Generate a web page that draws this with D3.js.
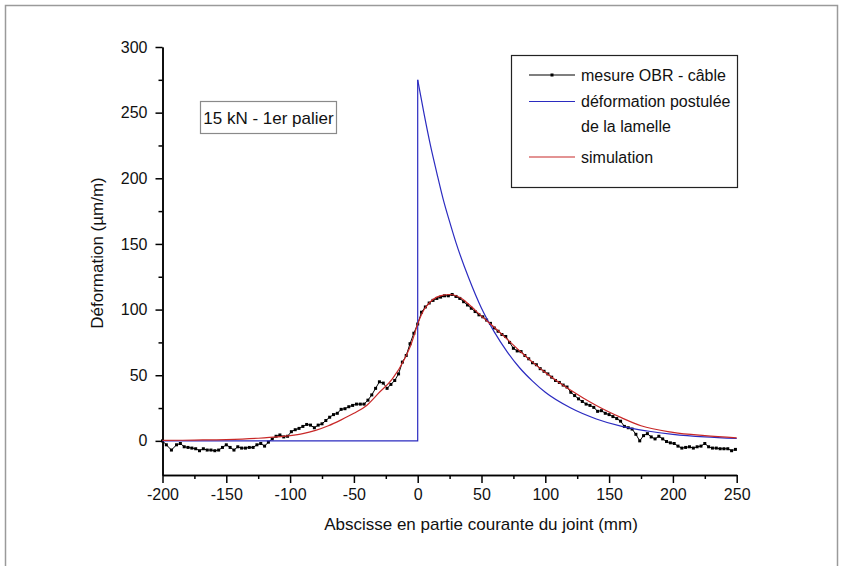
<!DOCTYPE html>
<html><head><meta charset="utf-8">
<script src="https://cdn.jsdelivr.net/npm/d3@7"></script>
<style>
html,body{margin:0;padding:0;background:#fff;}
svg{display:block;font-family:"Liberation Sans",Arial,sans-serif;}
</style></head>
<body>
<svg id="chart" width="841" height="566"></svg>
<script>
// ---- data ----
const xTicks = [-200,-150,-100,-50,0,50,100,150,200,250];
const xMinorTicks = [-175,-125,-75,-25,25,75,125,175,225];
const yTicks = [0,50,100,150,200,250,300];
const yMinorTicks = [25,75,125,175,225,275];
const xDomain = [-200,250];
const yDomain = [-26,300];

// measured OBR (cable)
const obrX = [-200,-197,-193,-189,-186,-183,-180,-177,-174,-171,-168,-165,-162,-159,-156,-153,-150,-147,-144,-141,-138,-135,-132,-129,-126,-123,-120,-117,-114,-111,-108,-105,-102,-99,-96,-93,-90,-87,-84,-81,-78,-75,-72,-69,-66,-63,-60,-57,-54,-51,-48,-45,-42,-39,-36,-33,-30,-27,-24,-21,-18,-15,-12,-9,-6,-3,0,3,6,9,12,15,18,21,24,27,30,33,36,39,42,45,48,51,54,57,60,63,66,69,72,75,78,81,84,87,90,93,96,99,102,105,108,111,114,117,120,123,126,129,132,135,138,141,144,147,150,153,156,159,162,165,168,171,174,177,180,183,186,189,192,195,198,201,204,207,210,213,216,219,222,225,228,231,234,237,240,243,246,249];
const obrY = [0,-3,-7,-3,-2,-4.5,-5,-5.5,-6,-7.5,-6,-7,-7,-7.5,-7,-5,-3,-5,-7,-4.5,-5.5,-5.5,-5,-5,-3,-2,-4,-1,1.5,3.5,4.5,3,3.5,7,8.5,9.5,11,12.5,12,10,12,13,15.5,18,20,21,24,24.5,26,27,28,28,28,31,35,40,45,44,40,43,46,51,60,65,74,82,89,98,102,105,107,108.5,109.5,110.5,110.5,111.5,110,108.5,106,103.5,101,98.5,96,94.5,92,89.5,86,83.5,81,79.5,75,70.5,68.5,68,65,62.5,59.5,58,55,53,51,48.5,46,44.5,42.5,41,37,34.5,32,30,28,27,25.5,22.5,23,21,20,18.5,17,15,11,10,9,5,0,4,5.5,3,1.5,3.5,1.5,-0.5,-1.5,-2,-4,-5.5,-5,-4.5,-5.5,-4.5,-4,-2,-4.5,-5.5,-5.5,-6,-6,-6,-7.5,-6.5];

// postulated strain of the lamella
const blueFlatX = [-200,0,0];
const blueFlatY = [0,0,275];
const blueX = [0,5,10,15,20,25,30,40,50,60,70,80,90,100,120,140,160,180,200,225,250];
const blueY = [275,249,225,204,184,167,151,124,101,83,68,55.5,45.5,37,25,16.7,11,7.5,5,3,1.8];

// simulation
const simX = [-200,-175,-150,-125,-110,-100,-90,-80,-70,-60,-50,-40,-30,-20,-10,-5,0,5,10,15,20,25,30,35,40,50,60,70,80,90,100,110,120,130,140,150,160,175,200,225,250];
const simY = [0.3,0.6,1,2,3,4,5.5,8,11.5,16,21,27,37,47,63,74,89,100,106,109.5,111,111.5,110.5,108,104,95,86.5,77.5,68.5,60,52,45,38.5,32.5,27,22,17.5,11.5,6.5,4,2.3];

const legendLabels = [["mesure OBR - câble"],["déformation postulée","de la lamelle"],["simulation"]];
const annotation = "15 kN - 1er palier";
const xTitle = "Abscisse en partie courante du joint (mm)";
const yTitle = "Déformation (µm/m)";

// ---- drawing ----
const svg = d3.select("#chart");
svg.append("rect").attr("x",5.5).attr("y",5.5).attr("width",832).attr("height",600)
  .attr("fill","none").attr("stroke","#9a9a9a").attr("stroke-width",1.5);

const x = d3.scaleLinear().domain(xDomain).range([162.5,736.7]);
const y = d3.scaleLinear().domain(yDomain).range([475,47]);

const colBlack="#000", colBlue="#2b2bc0", colRed="#c82828";

// axes
const gy = svg.append("g").attr("transform",`translate(${x(xDomain[0])},0)`);
gy.call(d3.axisLeft(y).tickValues(yTicks).tickSize(7).tickSizeOuter(0).tickPadding(8).tickFormat(d3.format("d")));
const gyMin = svg.append("g").attr("transform",`translate(${x(xDomain[0])},0)`);
gyMin.call(d3.axisLeft(y).tickValues(yMinorTicks).tickSize(4).tickSizeOuter(0).tickFormat(""));
const gx = svg.append("g").attr("transform",`translate(0,${y(yDomain[0])})`);
gx.call(d3.axisBottom(x).tickValues(xTicks).tickSize(8).tickSizeOuter(0).tickPadding(6).tickFormat(d3.format("d")));
const gxMin = svg.append("g").attr("transform",`translate(0,${y(yDomain[0])})`);
gxMin.call(d3.axisBottom(x).tickValues(xMinorTicks).tickSize(4).tickSizeOuter(0).tickFormat(""));
[gy,gyMin,gx,gxMin].forEach(g=>{
  g.selectAll("path,line").attr("stroke","#000").attr("stroke-width",1.5);
  g.selectAll("text").attr("font-size",16).attr("fill","#111").attr("font-family","Liberation Sans, Arial, sans-serif");
});
gx.selectAll("text").text(d=>d<0?"-"+Math.abs(d):d);

svg.append("text").attr("x",481).attr("y",530)
  .attr("text-anchor","middle").attr("font-size",17).attr("fill","#111").text(xTitle);
svg.append("text").attr("transform",`translate(103,253) rotate(-90)`)
  .attr("text-anchor","middle").attr("font-size",17).attr("fill","#111").text(yTitle);

// series
const obr = obrX.map((v,i)=>[v,obrY[i]]);
const lineLin = d3.line().x(d=>x(d[0])).y(d=>y(d[1]));
const lineSmooth = d3.line().x(d=>x(d[0])).y(d=>y(d[1])).curve(d3.curveMonotoneX);

svg.append("path").attr("d",lineLin(obr)).attr("fill","none").attr("stroke",colBlack).attr("stroke-width",1);
svg.append("g").selectAll("rect").data(obr).join("rect")
  .attr("x",d=>x(d[0])-1.5).attr("y",d=>y(d[1])-1.5).attr("width",3).attr("height",3).attr("fill",colBlack);

svg.append("path").attr("d",lineLin(blueFlatX.map((v,i)=>[v,blueFlatY[i]])))
  .attr("fill","none").attr("stroke",colBlue).attr("stroke-width",1.2);
svg.append("path").attr("d",lineSmooth(blueX.map((v,i)=>[v,blueY[i]])))
  .attr("fill","none").attr("stroke",colBlue).attr("stroke-width",1.2);

svg.append("path").attr("d",lineSmooth(simX.map((v,i)=>[v,simY[i]])))
  .attr("fill","none").attr("stroke",colRed).attr("stroke-width",1.2);

// annotation box
svg.append("rect").attr("x",200.5).attr("y",101.5).attr("width",136).attr("height",32)
  .attr("fill","#fff").attr("stroke","#8a8a8a").attr("stroke-width",1.2);
svg.append("text").attr("x",268.5).attr("y",118).attr("dy","0.35em").attr("text-anchor","middle")
  .attr("font-size",17).attr("fill","#111").text(annotation);

// legend
const lg = svg.append("g");
lg.append("rect").attr("x",511.5).attr("y",55.5).attr("width",226).attr("height",132)
  .attr("fill","#fff").attr("stroke","#222").attr("stroke-width",1.2);
const rowsY = [75,101.5,157];
const cols = [colBlack,colBlue,colRed];
rowsY.forEach((ry,i)=>{
  lg.append("line").attr("x1",529).attr("x2",575).attr("y1",ry).attr("y2",ry)
    .attr("stroke",cols[i]).attr("stroke-width",1.2);
  if(i===0) lg.append("rect").attr("x",550.5).attr("y",ry-1.5).attr("width",3).attr("height",3).attr("fill",colBlack);
  legendLabels[i].forEach((t,j)=>{
    lg.append("text").attr("x",581).attr("y",ry+j*25).attr("dy","0.35em")
      .attr("font-size",16).attr("fill","#111").text(t);
  });
});
</script>
</body></html>
